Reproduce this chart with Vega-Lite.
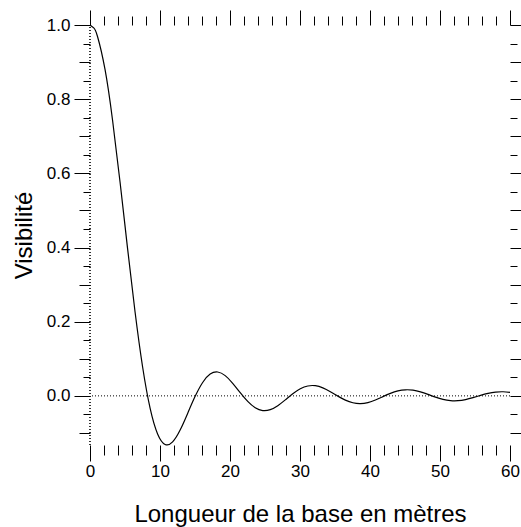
{
  "$schema": "https://vega.github.io/schema/vega-lite/v6.json",
  "width": 420,
  "height": 420,
  "autosize": {"type": "none"},
  "padding": {"left": 90, "top": 25, "right": 11, "bottom": 82},
  "background": "white",
  "config": {
    "view": {"stroke": null},
    "axis": {
      "domain": false,
      "grid": false,
      "tickColor": "black",
      "tickWidth": 1,
      "labelColor": "black",
      "labelFont": "Liberation Sans",
      "labelFontSize": 17,
      "titleFont": "Liberation Sans",
      "titleFontSize": 24,
      "titleFontWeight": "normal",
      "titleColor": "black",
      "labelFlush": false,
      "labelOverlap": false
    }
  },
  "layer": [
    {
      "data": {"values": [{"B": 0, "V": -0.1325}, {"B": 0, "V": 1.0}]},
      "mark": {"type": "line", "color": "black", "strokeWidth": 1.6, "strokeDash": [1, 2]},
      "encoding": {
        "x": {
          "field": "B", "type": "quantitative",
          "scale": {"domain": [0, 60], "nice": false, "zero": false},
          "axis": {"orient": "top", "title": null, "labels": false, "values": [0,10,20,30,40,50,60], "tickSize": 15}
        },
        "y": {"field": "V", "type": "quantitative", "axis": null}
      }
    },
    {
      "data": {"values": [{"V": 0}]},
      "mark": {"type": "rule", "color": "black", "strokeWidth": 1, "strokeDash": [1, 2]},
      "encoding": {
        "y": {
          "field": "V", "type": "quantitative",
          "scale": {"domain": [-0.1325, 1.0], "nice": false, "zero": false},
          "axis": {"orient": "right", "title": null, "labels": false, "values": [-0.1,0,0.1,0.2,0.3,0.4,0.5,0.6,0.7,0.8,0.9,1.0], "tickSize": 15}
        }
      }
    },
    {
      "data": {"values": [{"B": 0, "V": 0}]},
      "mark": {"type": "point", "opacity": 0},
      "encoding": {
        "x": {
          "field": "B", "type": "quantitative",
          "scale": {"domain": [0, 60], "nice": false, "zero": false},
          "axis": {"orient": "top", "title": null, "labels": false, "values": [2,4,6,8,12,14,16,18,22,24,26,28,32,34,36,38,42,44,46,48,52,54,56,58], "tickSize": 9}
        },
        "y": {
          "field": "V", "type": "quantitative",
          "scale": {"domain": [-0.1325, 1.0], "nice": false, "zero": false},
          "axis": {"orient": "right", "title": null, "labels": false, "values": [-0.05,0.05,0.15,0.25,0.35,0.45,0.55,0.65,0.75,0.85,0.95], "tickSize": 7}
        }
      }
    },
    {
      "data": {"values": [{"B": 0, "V": 0}]},
      "mark": {"type": "point", "opacity": 0},
      "encoding": {
        "x": {
          "field": "B", "type": "quantitative",
          "scale": {"domain": [0, 60], "nice": false, "zero": false},
          "axis": {"orient": "bottom", "title": null, "labels": false, "values": [2,4,6,8,12,14,16,18,22,24,26,28,32,34,36,38,42,44,46,48,52,54,56,58], "tickSize": 10}
        },
        "y": {
          "field": "V", "type": "quantitative",
          "scale": {"domain": [-0.1325, 1.0], "nice": false, "zero": false},
          "axis": {"orient": "left", "title": null, "labels": false, "values": [-0.05,0.05,0.15,0.25,0.35,0.45,0.55,0.65,0.75,0.85,0.95], "tickSize": 7}
        }
      }
    },
    {
      "data": {"values": [{"B": 0, "V": 0}]},
      "mark": {"type": "point", "opacity": 0},
      "encoding": {
        "y": {
          "field": "V", "type": "quantitative",
          "scale": {"domain": [-0.1325, 1.0], "nice": false, "zero": false},
          "axis": {"orient": "left", "title": null, "labels": false, "values": [-0.1,0.1,0.3,0.5,0.7,0.9], "tickSize": 11}
        }
      }
    },
    {
      "data": {"values": [
        {"B": 0, "V": 1},
        {"B": 0.536, "V": 0.99221},
        {"B": 1.073, "V": 0.96907},
        {"B": 2.146, "V": 0.8801},
        {"B": 3.219, "V": 0.74392},
        {"B": 4.292, "V": 0.57672},
        {"B": 5.365, "V": 0.39768},
        {"B": 6.438, "V": 0.22604},
        {"B": 7.511, "V": 0.0785},
        {"B": 8.584, "V": -0.03302},
        {"B": 9.657, "V": -0.10266},
        {"B": 10.73, "V": -0.13103},
        {"B": 11.803, "V": -0.12416},
        {"B": 12.876, "V": -0.09223},
        {"B": 13.948, "V": -0.04734},
        {"B": 15.021, "V": -0.00134},
        {"B": 16.094, "V": 0.03607},
        {"B": 17.167, "V": 0.05866},
        {"B": 18.24, "V": 0.06426},
        {"B": 19.313, "V": 0.05451},
        {"B": 20.386, "V": 0.03395},
        {"B": 21.459, "V": 0.00869},
        {"B": 22.532, "V": -0.01502},
        {"B": 23.605, "V": -0.03214},
        {"B": 24.678, "V": -0.03972},
        {"B": 25.751, "V": -0.03724},
        {"B": 26.824, "V": -0.02648},
        {"B": 27.897, "V": -0.01082},
        {"B": 28.97, "V": 0.00564},
        {"B": 30.043, "V": 0.01905},
        {"B": 31.116, "V": 0.02668},
        {"B": 32.189, "V": 0.02735},
        {"B": 33.262, "V": 0.02158},
        {"B": 34.335, "V": 0.0113},
        {"B": 35.408, "V": -0.0007},
        {"B": 36.481, "V": -0.01149},
        {"B": 37.554, "V": -0.01868},
        {"B": 38.627, "V": -0.02089},
        {"B": 39.7, "V": -0.01802},
        {"B": 40.773, "V": -0.01113},
        {"B": 41.845, "V": -0.00214},
        {"B": 42.918, "V": 0.00668},
        {"B": 43.991, "V": 0.01329},
        {"B": 45.064, "V": 0.0163},
        {"B": 46.137, "V": 0.01524},
        {"B": 47.21, "V": 0.01065},
        {"B": 48.283, "V": 0.00384},
        {"B": 49.356, "V": -0.00344},
        {"B": 50.429, "V": -0.00944},
        {"B": 51.502, "V": -0.01284},
        {"B": 52.575, "V": -0.01298},
        {"B": 53.648, "V": -0.01003},
        {"B": 54.721, "V": -0.00487},
        {"B": 55.794, "V": 0.00116},
        {"B": 56.867, "V": 0.00657},
        {"B": 57.94, "V": 0.01012},
        {"B": 59.013, "V": 0.01107},
        {"B": 60, "V": 0.00955}
      ]},
      "mark": {"type": "line", "color": "black", "strokeWidth": 1.2, "interpolate": "natural"},
      "encoding": {
        "x": {
          "field": "B", "type": "quantitative",
          "scale": {"domain": [0, 60], "nice": false, "zero": false},
          "axis": {
            "orient": "bottom",
            "title": "Longueur de la base en mètres",
            "titlePadding": 23,
            "labelPadding": 2,
            "values": [0,10,20,30,40,50,60],
            "tickSize": 16
          }
        },
        "y": {
          "field": "V", "type": "quantitative",
          "scale": {"domain": [-0.1325, 1.0], "nice": false, "zero": false},
          "axis": {
            "orient": "left",
            "title": "Visibilité",
            "titlePadding": 10,
            "labelPadding": 4,
            "values": [0,0.2,0.4,0.6,0.8,1.0],
            "tickSize": 16,
            "format": ".1f"
          }
        }
      }
    }
  ],
  "resolve": {"axis": {"x": "independent", "y": "independent"}}
}
